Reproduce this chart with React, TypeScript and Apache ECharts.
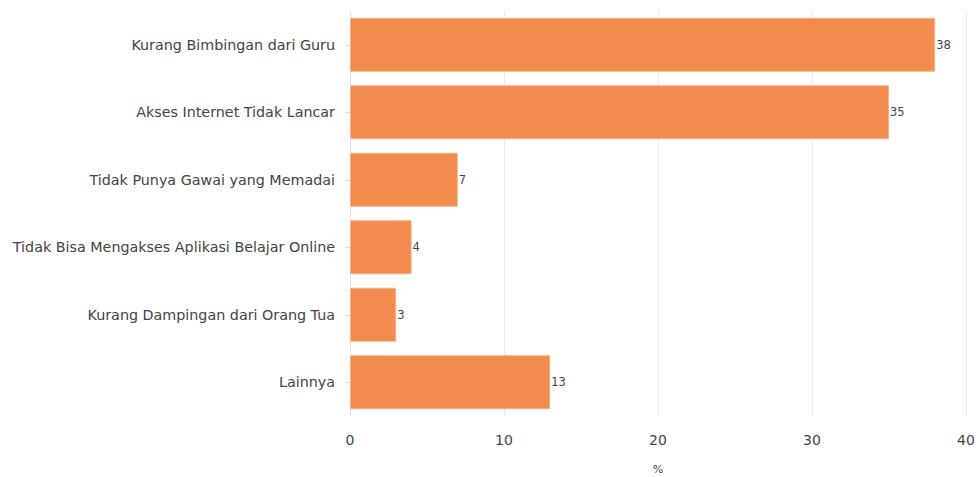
import React, { useEffect, useRef } from "react";
import * as echarts from "echarts";

const categories = [
  "Kurang Bimbingan dari Guru",
  "Akses Internet Tidak Lancar",
  "Tidak Punya Gawai yang Memadai",
  "Tidak Bisa Mengakses Aplikasi Belajar Online",
  "Kurang Dampingan dari Orang Tua",
  "Lainnya",
];
const values = [38, 35, 7, 4, 3, 13];
const xTicks = [0, 10, 20, 30, 40];
const axisTitle = "%";

export default function App() {
  const ref = useRef<HTMLDivElement>(null);
  useEffect(() => {
    if (!ref.current) return;
    const chart = echarts.init(ref.current, undefined, { renderer: "svg" });
    const font = "'DejaVu Sans', Verdana, sans-serif";
    chart.setOption({
      animation: false,
      textStyle: { fontFamily: font },
      grid: {
        left: 350,
        right: 14,
        top: 11,
        bottom: 61,
        containLabel: false,
        outerBoundsMode: "none",
      },
      xAxis: {
        type: "value",
        min: xTicks[0],
        max: xTicks[xTicks.length - 1],
        interval: 10,
        name: axisTitle,
        nameLocation: "middle",
        nameGap: 48,
        nameTextStyle: { color: "#444", fontSize: 11, fontFamily: font },
        axisLine: { show: false },
        axisTick: { show: false },
        axisLabel: { color: "#444", fontSize: 14, margin: 17, fontFamily: font },
        splitLine: { show: true, lineStyle: { color: "#eaeaea", width: 1 } },
      },
      yAxis: {
        type: "category",
        data: categories,
        inverse: true,
        axisLine: { show: true, lineStyle: { color: "#e3e3e3", width: 1 } },
        axisTick: { show: true, alignWithLabel: true, length: 5, lineStyle: { color: "#ddd" } },
        axisLabel: { color: "#444", fontSize: 14.3, margin: 15, fontFamily: font },
        splitLine: { show: false },
      },
      series: [
        {
          type: "bar",
          data: values,
          barCategoryGap: "20%",
          itemStyle: { color: "#f28c4e", borderColor: "#f8b18a", borderWidth: 1 },
          label: {
            show: true,
            position: "right",
            distance: 1,
            color: "#444",
            fontSize: 11.5,
            fontFamily: font,
          },
        },
      ],
    });
    return () => chart.dispose();
  }, []);
  return (
    <div
      ref={ref}
      style={{ position: "absolute", left: 0, top: 0, width: 980, height: 477 }}
    />
  );
}
